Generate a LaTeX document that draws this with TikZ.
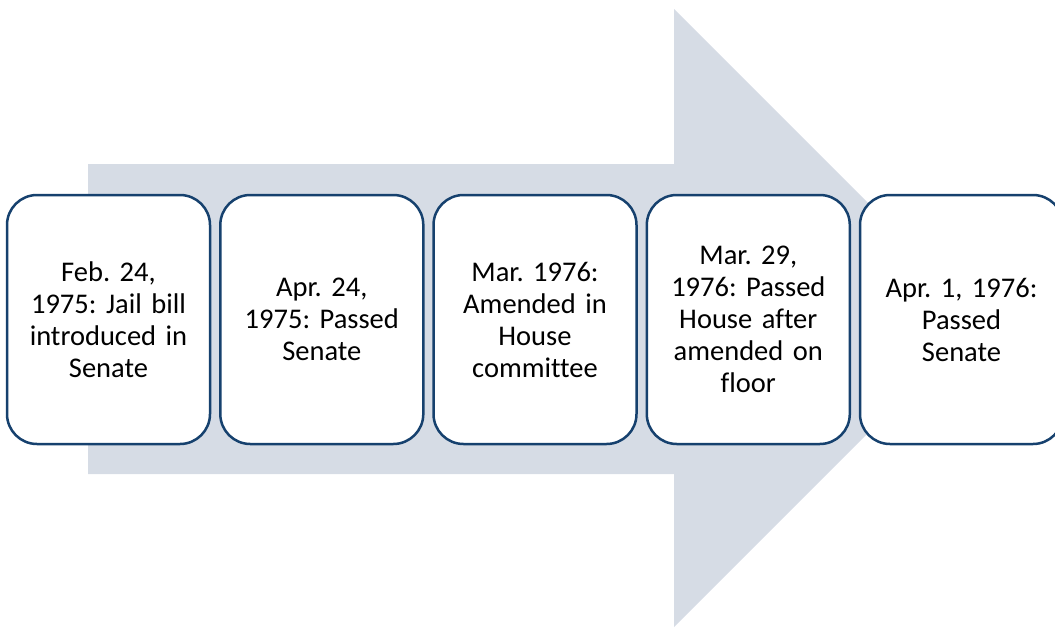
\documentclass[tikz,border=0pt]{standalone}
\usepackage{fontspec}
\setmainfont[Ligatures={NoCommon}]{Carlito}
\definecolor{arrowfill}{RGB}{214,220,229}
\definecolor{boxline}{RGB}{22,65,110}
\begin{document}
\frenchspacing
\begin{tikzpicture}[x=1pt,y=-1pt,
  stepbox/.style={draw=boxline, line width=2.5pt, fill=white, rounded corners=30pt,
    minimum width=203pt, minimum height=249pt, inner sep=0pt, align=center,
    text width=190pt,
    font=\fontsize{28.5}{32}\selectfont}]
\useasboundingbox (0,0) rectangle (1055,627);
\clip (0,0) rectangle (1055,627);
\fill[arrowfill] (88,164) -- (674,164) -- (674,9) -- (983,318) -- (674,627) -- (674,474) -- (88,474) -- cycle;
\node[stepbox] (b1) at (108.5,319.5) {Feb. 24,\\1975: Jail bill\\introduced in\\Senate};
\node[stepbox] (b2) at (321.8,319.5) {Apr. 24,\\1975: Passed\\Senate};
\node[stepbox] (b3) at (535,319.5) {Mar. 1976:\\Amended in\\House\\committee};
\node[stepbox] (b4) at (748.3,319.5) {Mar. 29,\\1976: Passed\\House after\\amended on\\floor};
\node[stepbox] (b5) at (961.5,319.5) {Apr. 1, 1976:\\Passed\\Senate};
\end{tikzpicture}
\end{document}
